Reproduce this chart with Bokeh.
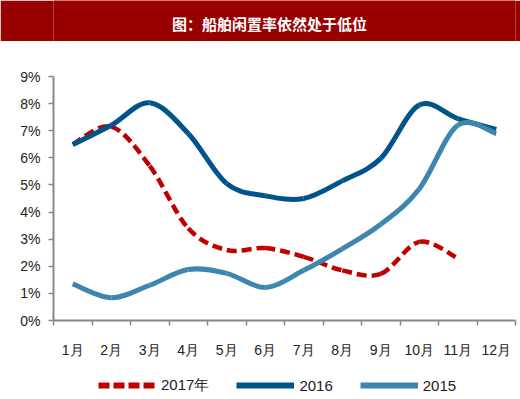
import numpy as np
from bokeh.plotting import figure
from bokeh.models import (ColumnDataSource, FixedTicker, Legend, LegendItem, Label,
                          Range1d, PrintfTickFormatter)
from bokeh.layouts import column
from bokeh.embed import file_html
from bokeh.resources import INLINE

# ---- data ----
months = ["1月", "2月", "3月", "4月", "5月", "6月", "7月", "8月", "9月", "10月", "11月", "12月"]
month_pos = list(range(1, 13))
rate_2017 = [6.5, 7.15, 5.7, 3.4, 2.6, 2.67, 2.35, 1.85, 1.72, 2.9, 2.3]
rate_2016 = [6.49, 7.2, 8.03, 6.9, 5.05, 4.6, 4.5, 5.15, 5.98, 7.95, 7.45, 7.05]
rate_2015 = [1.35, 0.84, 1.3, 1.88, 1.74, 1.22, 1.85, 2.64, 3.55, 4.85, 7.2, 6.9]
series_names = ["2017年", "2016", "2015"]
y_ticks = list(range(0, 10))
title_text = "图：船舶闲置率依然处于低位"

C17 = "#C00000"
C16 = "#00548A"
C15 = "#3F86AF"
RED = "#990000"
AXIS = "#888888"
TXT = "#222222"
FONT = "Liberation Sans"
W = 520
LEFT, RIGHT = 53, 5
BANNER_H, CHART_H, LEG_H = 41, 319, 39


def smooth_source(xs, ys):
    """Catmull-Rom style Bezier control points; the curve passes through every value."""
    xs = np.asarray(xs, float)
    ys = np.asarray(ys, float)
    n = len(xs)
    d = dict(x0=[], y0=[], x1=[], y1=[], cx0=[], cy0=[], cx1=[], cy1=[])
    for i in range(n - 1):
        a = max(i - 1, 0)
        b = min(i + 2, n - 1)
        d["x0"].append(xs[i]); d["y0"].append(ys[i])
        d["x1"].append(xs[i + 1]); d["y1"].append(ys[i + 1])
        d["cx0"].append(xs[i] + (xs[i + 1] - xs[a]) / 6)
        d["cy0"].append(ys[i] + (ys[i + 1] - ys[a]) / 6)
        d["cx1"].append(xs[i + 1] - (xs[b] - xs[i]) / 6)
        d["cy1"].append(ys[i + 1] - (ys[b] - ys[i]) / 6)
    return ColumnDataSource(d)


# ---- banner (frame is aligned with the chart frame; borders filled red too) ----
banner = figure(width=W, height=BANNER_H, x_range=Range1d(LEFT, W - RIGHT), y_range=Range1d(0, 1),
                toolbar_location=None, output_backend="svg",
                min_border_top=0, min_border_bottom=0, min_border_left=LEFT, min_border_right=RIGHT,
                x_axis_type=None, y_axis_type=None,
                background_fill_color=RED, border_fill_color=RED,
                outline_line_color=None)
banner.grid.visible = False
banner.add_layout(Label(x=269, y=0.45, text=title_text, text_align="center",
                        text_baseline="middle", text_color="white",
                        text_font="Noto Sans CJK SC", text_font_style="bold",
                        text_font_size="15px"))

# ---- chart ----
p = figure(width=W, height=CHART_H, x_range=Range1d(0.5, 12.5), y_range=Range1d(0, 9),
           toolbar_location=None, output_backend="svg",
           min_border_left=LEFT, min_border_right=RIGHT, min_border_top=35, min_border_bottom=40,
           outline_line_color=None)
p.grid.visible = False

bz = dict(x0="x0", y0="y0", x1="x1", y1="y1", cx0="cx0", cy0="cy0", cx1="cx1", cy1="cy1")
p.bezier(source=smooth_source(month_pos[:len(rate_2017)], rate_2017),
         line_color=C17, line_width=4.5, line_dash="10 5", **bz)
p.bezier(source=smooth_source(month_pos, rate_2016), line_color=C16, line_width=5, **bz)
p.bezier(source=smooth_source(month_pos, rate_2015), line_color=C15, line_width=5, **bz)

xa = p.xaxis[0]
xa.ticker = FixedTicker(ticks=month_pos, minor_ticks=[m - 0.5 for m in month_pos] + [12.5])
xa.major_label_overrides = {m: lab for m, lab in zip(month_pos, months)}
xa.major_tick_line_color = None
xa.major_tick_out = 0
xa.major_tick_in = 0
xa.minor_tick_out = 5
xa.minor_tick_in = 0
xa.minor_tick_line_color = AXIS
xa.minor_tick_line_width = 1.5
xa.axis_line_color = AXIS
xa.axis_line_width = 2
xa.major_label_standoff = 16
xa.major_label_text_font = FONT
xa.major_label_text_font_size = "14px"
xa.major_label_text_color = TXT

ya = p.yaxis[0]
ya.ticker = FixedTicker(ticks=y_ticks, minor_ticks=[])
ya.formatter = PrintfTickFormatter(format="%d%%")
ya.major_tick_out = 5
ya.major_tick_in = 0
ya.major_tick_line_color = AXIS
ya.major_tick_line_width = 1.5
ya.axis_line_color = AXIS
ya.axis_line_width = 2
ya.major_label_standoff = 8
ya.major_label_text_font = FONT
ya.major_label_text_font_size = "14px"
ya.major_label_text_color = TXT

# ---- legend strip: the series are re-drawn here out of view, only their swatches show ----
lg = figure(width=W, height=LEG_H, x_range=Range1d(0.5, 12.5), y_range=Range1d(100, 101),
            toolbar_location=None, output_backend="svg",
            min_border_top=0, min_border_bottom=0, min_border_left=LEFT, min_border_right=RIGHT,
            x_axis_type=None, y_axis_type=None, outline_line_color=None)
lg.grid.visible = False
k17 = lg.line(x=month_pos[:len(rate_2017)], y=rate_2017, line_color=C17, line_width=6,
              line_dash="11 4")
k16 = lg.line(x=month_pos, y=rate_2016, line_color=C16, line_width=6)
k15 = lg.line(x=month_pos, y=rate_2015, line_color=C15, line_width=6)
legend = Legend(items=[LegendItem(label=series_names[0], renderers=[k17]),
                       LegendItem(label=series_names[1], renderers=[k16]),
                       LegendItem(label=series_names[2], renderers=[k15])],
                orientation="horizontal", location=(98 - LEFT, 4),
                glyph_width=58, glyph_height=20, label_height=20,
                label_standoff=5, spacing=27,
                label_text_font=FONT, label_text_font_size="15px",
                label_text_color=TXT, border_line_color=None,
                background_fill_alpha=0, padding=0, margin=0)
lg.add_layout(legend)

layout = column(banner, p, lg, spacing=0)
open("out.html", "w").write(file_html(layout, INLINE))
